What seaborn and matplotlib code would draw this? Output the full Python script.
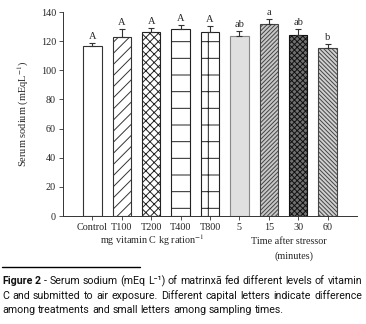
import matplotlib
matplotlib.use("Agg")
import matplotlib.pyplot as plt
import seaborn as sns
import pandas as pd

groups = ["Control", "T100", "T200", "T400", "T800", "5", "15", "30", "60"]
means = [116.5, 123.0, 126.5, 128.0, 126.0, 123.5, 132.0, 124.5, 115.5]
errors = [2.0, 5.5, 2.5, 3.0, 4.5, 3.5, 3.0, 4.0, 2.5]
letters = ["A", "A", "A", "A", "A", "ab", "a", "ab", "b"]
yticks = [0, 20, 40, 60, 80, 100, 120, 140]

faces = ["white", "white", "white", "white", "white", "#e0e0e0", "#c8c8c8", "#707070", "#d0d0d0"]
hatches = [None, "///", "xxxx", "-", "+", None, "////////", "xxxxxx", "\\\\\\\\\\\\\\\\"]
edges = ["#333333", "#333333", "#222222", "#222222", "#222222", "#888888", "#444444", "#111111", "#444444"]

caption_lines = [
    ["Figure 2", "- Serum sodium (mEq L\u207b\u00b9) of matrinx\u00e3 fed different levels of vitamin"],
    ["C and submitted to air exposure. Different capital letters indicate difference"],
    ["among treatments and small letters among sampling times."],
]

sns.set_theme(style="ticks")
plt.rcParams["font.family"] = ["Liberation Serif", "DejaVu Serif"]
plt.rcParams["mathtext.fontset"] = "stix"
plt.rcParams["hatch.linewidth"] = 0.7

W, H = 366, 324
fig = plt.figure(figsize=(3.66, 3.24), dpi=100)
ax = fig.add_axes([63 / W, 1 - 216 / H, 294 / W, 204 / H])

df = pd.DataFrame({"group": groups, "mean": means})
sns.barplot(data=df, x="group", y="mean", order=groups, color="white", width=0.62, ax=ax, errorbar=None)

for p, fc, h, ec in zip(ax.patches, faces, hatches, edges):
    p.set_facecolor(fc)
    p.set_edgecolor(ec)
    p.set_linewidth(0.8)
    if h:
        p.set_hatch(h)

xs = list(range(len(groups)))
ax.errorbar(xs, means, yerr=[[0] * len(errors), errors], fmt="none", ecolor="#333333",
            elinewidth=0.8, capsize=2.5, capthick=0.8)
for x, m, e, t in zip(xs, means, errors, letters):
    ax.text(x, m + e + 1.5, t, ha="center", va="bottom", fontsize=7.5)

ax.set_xlim(-1.0, 9.0)
ax.set_ylim(0, 140)
ax.set_yticks(yticks)
ax.set_ylabel("Serum sodium (mEqL$^{-1}$)", fontsize=7.5, labelpad=7)
ax.set_xlabel("")
ax.tick_params(axis="both", labelsize=7.3, length=3, width=0.6, pad=2, color="#333333")
for s in ["top", "right"]:
    ax.spines[s].set_visible(False)
for s in ["left", "bottom"]:
    ax.spines[s].set_linewidth(0.7)
    ax.spines[s].set_color("#333333")

fig.text(152 / W, 1 - 240 / H, "mg vitamin C kg ration$^{-1}$", ha="center", va="center", fontsize=7.3)
fig.text(289 / W, 1 - 242 / H, "Time after stressor", ha="center", va="center", fontsize=7.3)
fig.text(294 / W, 1 - 256 / H, "(minutes)", ha="center", va="center", fontsize=7.3)

fig.add_artist(plt.Line2D([2 / W, 140 / W], [1 - 267 / H, 1 - 267 / H], color="black", lw=1.0,
                          transform=fig.transFigure))

cap_font = ["Roboto", "DejaVu Sans"]
renderer = fig.canvas.get_renderer()


def width_of(s, size, bold=False):
    t = fig.text(0, 0, s, fontsize=size, family=cap_font, fontweight="bold" if bold else "normal")
    w = t.get_window_extent(renderer).width
    t.remove()
    return w


# fit the font size so that the first line fills the caption width
target = 360.0
cs = 8.0
for _ in range(3):
    w = width_of("Figure 2", cs, True) + width_of(" " + caption_lines[0][1], cs)
    cs = cs * target / w

ys = [281, 296, 310]
justify = [True, True, False]
for li, (parts, yy, just) in enumerate(zip(caption_lines, ys, justify)):
    words = []
    for pi, part in enumerate(parts):
        bold = (li == 0 and pi == 0)
        for wd in part.split(" "):
            words.append((wd, bold))
    widths = [width_of(wd, cs, b) for wd, b in words]
    space = width_of("a a", cs) - width_of("aa", cs)
    if just and len(words) > 1:
        gap = (target - sum(widths)) / (len(words) - 1)
    else:
        gap = space
    x = 2.0
    for (wd, b), wdt in zip(words, widths):
        fig.text(x / W, 1 - yy / H, wd, ha="left", va="center", fontsize=cs, family=cap_font,
                 fontweight="bold" if b else "normal", color="#111111")
        x += wdt + gap

fig.savefig("out.png", dpi=100)
